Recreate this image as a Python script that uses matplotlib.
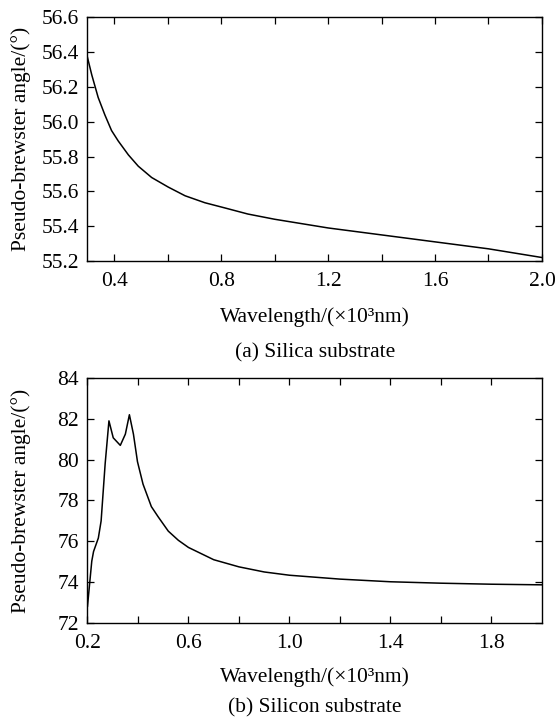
import numpy as np
import matplotlib
matplotlib.use('Agg')
import matplotlib.pyplot as plt
from matplotlib.ticker import MultipleLocator, FixedLocator

plt.rcParams['font.family'] = ['Liberation Serif', 'DejaVu Serif']
font_size = 15.5

# (a) silica substrate
wl_silica = [0.300, 0.316, 0.340, 0.365, 0.390, 0.415, 0.453, 0.490, 0.540,
             0.602, 0.665, 0.739, 0.814, 0.900, 1.000, 1.100, 1.200, 1.300,
             1.400, 1.500, 1.600, 1.700, 1.800, 1.900, 2.000]
ang_silica = [56.37, 56.27, 56.14, 56.04, 55.95, 55.89, 55.81, 55.745, 55.68,
              55.625, 55.575, 55.535, 55.505, 55.47, 55.44, 55.415, 55.39, 55.37,
              55.35, 55.33, 55.31, 55.29, 55.27, 55.245, 55.22]

# (b) silicon substrate
wl_silicon = [0.200, 0.217, 0.224, 0.243, 0.254, 0.270, 0.285, 0.302, 0.330,
              0.350, 0.366, 0.382, 0.398, 0.420, 0.453, 0.480, 0.520, 0.560,
              0.600, 0.700, 0.800, 0.900, 1.000, 1.200, 1.400, 1.600, 1.800,
              2.000]
ang_silicon = [72.82, 75.03, 75.50, 76.16, 77.00, 79.80, 81.90, 81.07, 80.70,
               81.25, 82.20, 81.25, 79.90, 78.80, 77.70, 77.20, 76.50, 76.05,
               75.70, 75.10, 74.75, 74.50, 74.34, 74.15, 74.02, 73.95, 73.90,
               73.87]

captions = ['(a) Silica substrate', '(b) Silicon substrate']
xlabel = 'Wavelength/(\u00d710\u00b3nm)'
ylabel = 'Pseudo-brewster angle/(\u00b0)'

fig = plt.figure(figsize=(5.59, 7.19), dpi=100)
ax1 = fig.add_axes([0.1565, 0.6370, 0.813, 0.3387])
ax2 = fig.add_axes([0.1565, 0.1335, 0.813, 0.3408])

ax1.plot(wl_silica, ang_silica, color='black', lw=1.1)
ax1.set_xlim(0.3, 2.0)
ax1.set_ylim(55.2, 56.6)
ax1.xaxis.set_major_locator(FixedLocator([0.4, 0.8, 1.2, 1.6, 2.0]))
ax1.xaxis.set_minor_locator(FixedLocator([0.6, 1.0, 1.4, 1.8]))
ax1.yaxis.set_major_locator(MultipleLocator(0.2))
ax1.yaxis.set_major_formatter(plt.FormatStrFormatter('%.1f'))
ax1.xaxis.set_major_formatter(plt.FormatStrFormatter('%.1f'))

ax2.plot(wl_silicon, ang_silicon, color='black', lw=1.1)
ax2.set_xlim(0.2, 2.0)
ax2.set_ylim(72, 84)
ax2.xaxis.set_major_locator(FixedLocator([0.2, 0.6, 1.0, 1.4, 1.8]))
ax2.xaxis.set_minor_locator(FixedLocator([0.4, 0.8, 1.2, 1.6]))
ax2.yaxis.set_major_locator(MultipleLocator(2))
ax2.xaxis.set_major_formatter(plt.FormatStrFormatter('%.1f'))

# label / caption offsets (axes fraction below the bottom spine)
label_y = [-0.229, -0.220]
caption_y = [-0.377, -0.347]

for ax, cap, ly, cy in zip([ax1, ax2], captions, label_y, caption_y):
    ax.tick_params(which='both', direction='in', top=True, right=True,
                   length=5, width=0.9, labelsize=font_size)
    ax.tick_params(axis='x', which='both', pad=8)
    ax.tick_params(axis='y', which='both', pad=6)
    for s in ax.spines.values():
        s.set_linewidth(1.0)
    ax.set_ylabel(ylabel, fontsize=font_size)
    ax.yaxis.set_label_coords(-0.125, 0.5)
    ax.text(0.5, ly, xlabel, transform=ax.transAxes, ha='center',
            va='center', fontsize=font_size)
    ax.text(0.5, cy, cap, transform=ax.transAxes, ha='center',
            va='center', fontsize=font_size)

fig.savefig('out.png', dpi=100)
